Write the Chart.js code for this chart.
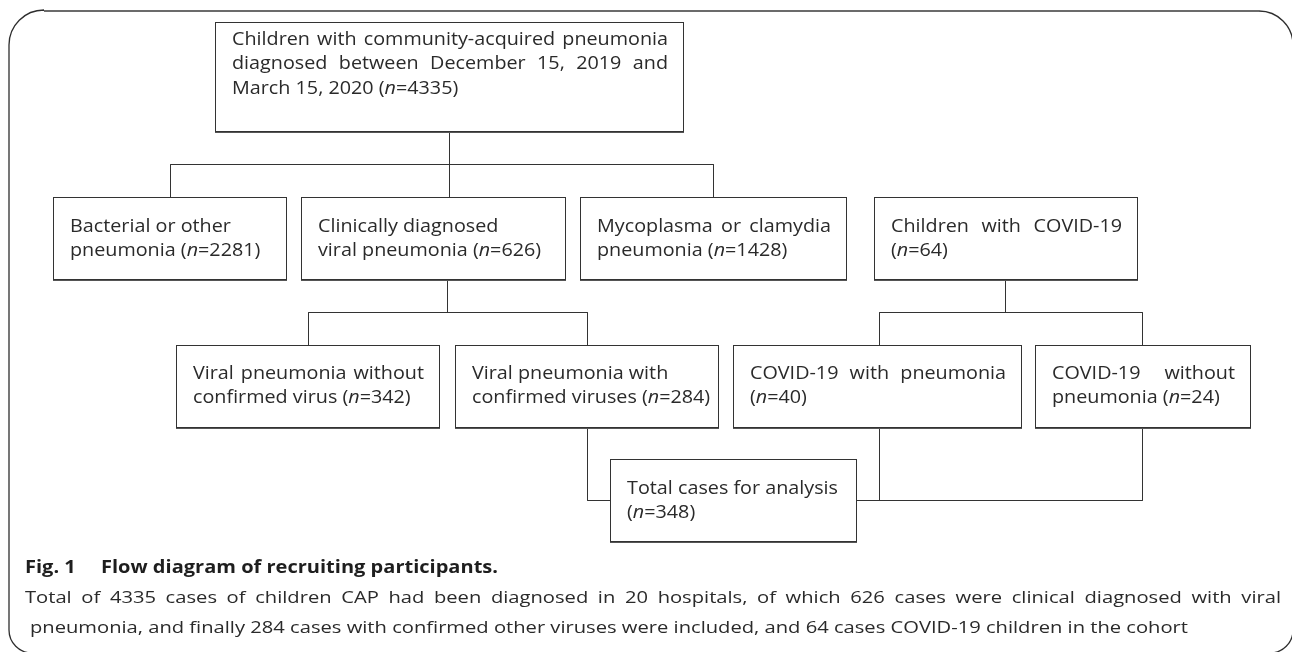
<!DOCTYPE html>
<html>
<head>
<meta charset="utf-8">
<script src="https://cdn.jsdelivr.net/npm/chart.js@4/dist/chart.umd.min.js"></script>
<style>
  html, body { margin: 0; padding: 0; background: #ffffff; }
  #wrap { width: 1292px; height: 652px; position: relative; }
</style>
</head>
<body>
<div id="wrap"><canvas id="c" width="1292" height="652"></canvas></div>
<script>
// ---------------- DATA ----------------
const nodeNames = [
  "Children with community-acquired pneumonia\ndiagnosed between December 15, 2019 and\nMarch 15, 2020",
  "Bacterial or other\npneumonia",
  "Clinically diagnosed\nviral pneumonia",
  "Mycoplasma or clamydia\npneumonia",
  "Children with COVID-19\n",
  "Viral pneumonia without\nconfirmed virus",
  "Viral pneumonia with\nconfirmed viruses",
  "COVID-19 with pneumonia\n",
  "COVID-19 without\npneumonia",
  "Total cases for analysis\n"
];
const nodeCounts = [4335, 2281, 626, 1428, 64, 342, 284, 40, 24, 348];

// tree structure: parent -> children
const splitParents  = [0, 2, 4];
const splitChildren = [[1, 2, 3], [5, 6], [7, 8]];
const mergeSources  = [6, 7, 8];
const mergeTarget   = 9;

const captionTitleLabel = "Fig. 1";
const captionTitleText  = "Flow diagram of recruiting participants.";
const captionBody = [
  "Total of 4335 cases of children CAP had been diagnosed in 20 hospitals, of which 626 cases were clinical diagnosed with viral",
  "pneumonia, and finally 284 cases with confirmed other viruses were included, and 64 cases COVID-19 children in the cohort"
];

// ---------------- LAYOUT (positions / styles) ----------------
const boxLeft   = [215, 53, 301, 580, 874, 176, 455, 733, 1035, 610];
const boxRight  = [683, 286, 565, 846, 1137, 439, 718, 1021, 1250, 856];
const boxTop    = [22, 197, 197, 197, 197, 345, 345, 345, 345, 459];
const boxBottom = [131, 279, 279, 279, 279, 427, 427, 427, 427, 541];
const textShiftY = [-12, 1, 1, 1, 1, 0, 0, 0, 0, 1];
const justifiedLines = [[0, 1], [], [], [0], [0], [0], [], [0], [0], []];
const anchorTopX    = [null, 170, 449, 713, null, 308, 587, 879, 1142, null];
const anchorBottomX = [449, null, 447, null, 1005, null, 587, 879, 1142, null];
const splitBusY = [164, 312, 312];
const mergeBusY = 500;
const textPadX = 17;
const lineGap = 24.5;

const TEXT_COLOR = "#2a2a2a";
const LINE_COLOR = "#333333";
const FONT = "'Open Sans', 'Noto Sans', sans-serif";
const BOX_FONT_SIZE = 17.5;
const CAPTION_FONT_SIZE = 16.5;
const TITLE_FONT_SIZE = 17;

// ---------------- connectors as datasets ----------------
const C = v => v + 0.5; // crisp 1px strokes
function seg(points) {
  return {
    type: 'line',
    data: points.map(p => ({ x: C(p[0]), y: C(p[1]) })),
    showLine: true, borderColor: LINE_COLOR, borderWidth: 1,
    pointRadius: 0, fill: false, tension: 0, clip: false
  };
}
const datasets = [];
splitParents.forEach((p, gi) => {
  const busY = splitBusY[gi];
  const px = anchorBottomX[p];
  datasets.push(seg([[px, boxBottom[p]], [px, busY]]));
  const xs = splitChildren[gi].map(c => anchorTopX[c]).concat([px]);
  datasets.push(seg([[Math.min(...xs), busY], [Math.max(...xs), busY]]));
  splitChildren[gi].forEach(c => {
    datasets.push(seg([[anchorTopX[c], busY], [anchorTopX[c], boxTop[c]]]));
  });
});
mergeSources.forEach(s => {
  datasets.push(seg([[anchorBottomX[s], boxBottom[s]], [anchorBottomX[s], mergeBusY]]));
});
{
  const xs = mergeSources.map(s => anchorBottomX[s]);
  datasets.push(seg([[Math.min(...xs), mergeBusY], [Math.max(...xs), mergeBusY]]));
}

// ---------------- text helpers (with horizontal condensing factor sx) ----------------
function fontStr(size, italic, bold) {
  return (italic ? "italic " : "") + (bold ? "bold " : "") + size + "px " + FONT;
}
function wordRuns(word) {
  const m = word.match(/^\(n(=.*)$/);
  if (m) return [{ t: "(", i: false }, { t: "n", i: true }, { t: m[1], i: false }];
  return [{ t: word, i: false }];
}
function wordWidth(ctx, word, st) {
  let w = 0;
  wordRuns(word).forEach(r => { ctx.font = fontStr(st.size, r.i, st.bold); w += ctx.measureText(r.t).width; });
  return w * st.sx;
}
function drawWord(ctx, word, x, y, st) {
  wordRuns(word).forEach(r => {
    ctx.font = fontStr(st.size, r.i, st.bold);
    ctx.save();
    ctx.translate(x, y);
    ctx.scale(st.sx, 1);
    ctx.fillText(r.t, 0, 0);
    ctx.restore();
    x += ctx.measureText(r.t).width * st.sx;
  });
}
function drawLine(ctx, text, x, y, st, justifyWidth) {
  const words = text.split(" ");
  ctx.font = fontStr(st.size, false, st.bold);
  const sp = ctx.measureText(" ").width * st.sx;
  const widths = words.map(w => wordWidth(ctx, w, st));
  let gap = sp;
  if (justifyWidth && words.length > 1) {
    const sum = widths.reduce((a, b) => a + b, 0);
    gap = Math.max(sp, (justifyWidth - sum) / (words.length - 1));
  }
  words.forEach((w, i) => { drawWord(ctx, w, x, y, st); x += widths[i] + gap; });
}
function makeStyle(ctx, size, bold, sample, target) {
  const st = { size, bold, sx: 1 };
  const w = wordWidth(ctx, sample.split(" ").join(" "), st);
  ctx.font = fontStr(size, false, bold);
  st.sx = target / ctx.measureText(sample).width;
  return st;
}

// ---------------- plugin drawing boxes, frame, caption ----------------
const flowPlugin = {
  id: 'flow',
  afterDatasetsDraw(chart) {
    const ctx = chart.ctx;
    const xs = chart.scales.x, ys = chart.scales.y;
    const X = v => xs.getPixelForValue(v), Y = v => ys.getPixelForValue(v);
    ctx.save();

    // outer frame
    ctx.strokeStyle = "#2e2e2e";
    ctx.lineWidth = 1.3;
    ctx.beginPath();
    ctx.moveTo(X(44), Y(11));
    ctx.lineTo(X(1259), Y(11));
    ctx.arc(X(1259), Y(45), 34, -Math.PI / 2, 0);
    ctx.lineTo(X(1293), Y(630));
    ctx.arc(X(1270), Y(630), 23, 0, Math.PI / 2);
    ctx.lineTo(X(32), Y(653));
    ctx.arc(X(32), Y(630), 23, Math.PI / 2, Math.PI);
    ctx.lineTo(X(9), Y(45));
    ctx.arc(X(44), Y(45), 35, Math.PI, Math.PI * 1.5);
    ctx.stroke();
    ctx.strokeStyle = "#6b6b6b";
    ctx.lineWidth = 2.2;
    ctx.beginPath();
    ctx.moveTo(X(44), Y(11));
    ctx.lineTo(X(1259), Y(11));
    ctx.stroke();

    // boxes
    const boxStyle = makeStyle(ctx, BOX_FONT_SIZE, false, "Total cases for analysis", 211);
    ctx.textBaseline = "middle";
    nodeNames.forEach((name, i) => {
      const l = X(boxLeft[i]), r = X(boxRight[i]), t = Y(boxTop[i]), b = Y(boxBottom[i]);
      ctx.fillStyle = "#ffffff";
      ctx.fillRect(l, t, r - l, b - t);
      ctx.strokeStyle = LINE_COLOR;
      ctx.lineWidth = 1;
      ctx.strokeRect(Math.round(l) + 0.5, Math.round(t) + 0.5, Math.round(r - l), Math.round(b - t));
      ctx.beginPath();
      ctx.moveTo(Math.round(l), Math.round(b) + 1.5);
      ctx.lineTo(Math.round(r) + 1, Math.round(b) + 1.5);
      ctx.strokeStyle = "#555555";
      ctx.stroke();

      const lines = name.split("\n");
      const last = lines.length - 1;
      const nTxt = "(n=" + nodeCounts[i] + ")";
      lines[last] = lines[last] === "" ? nTxt : lines[last] + " " + nTxt;
      const cy = (t + b) / 2 + textShiftY[i];
      ctx.fillStyle = TEXT_COLOR;
      lines.forEach((ln, k) => {
        const y = cy + (k - (lines.length - 1) / 2) * lineGap;
        const jw = justifiedLines[i].includes(k) ? (r - l - 2 * textPadX + 2) : null;
        drawLine(ctx, ln, l + textPadX, y, boxStyle, jw);
      });
    });

    // caption
    ctx.fillStyle = "#1e1e1e";
    const titleStyle = makeStyle(ctx, TITLE_FONT_SIZE, true, captionTitleText, 397);
    drawLine(ctx, captionTitleLabel, X(25), Y(568), titleStyle, null);
    drawLine(ctx, captionTitleText, X(101), Y(568), titleStyle, null);
    const bodyStyle = makeStyle(ctx, CAPTION_FONT_SIZE, false, captionBody[1], 1158);
    ctx.fillStyle = TEXT_COLOR;
    drawLine(ctx, captionBody[0], X(25), Y(598), bodyStyle, X(1281) - X(25));
    drawLine(ctx, captionBody[1], X(30), Y(628), bodyStyle, null);

    ctx.restore();
  }
};

new Chart(document.getElementById('c'), {
  type: 'scatter',
  data: { datasets },
  options: {
    responsive: false,
    animation: false,
    events: [],
    layout: { padding: 0 },
    plugins: { legend: { display: false }, tooltip: { enabled: false }, title: { display: false } },
    scales: {
      x: { type: 'linear', min: 0, max: 1292, display: false },
      y: { type: 'linear', min: 0, max: 652, reverse: true, display: false }
    }
  },
  plugins: [flowPlugin]
});
</script>
</body>
</html>
